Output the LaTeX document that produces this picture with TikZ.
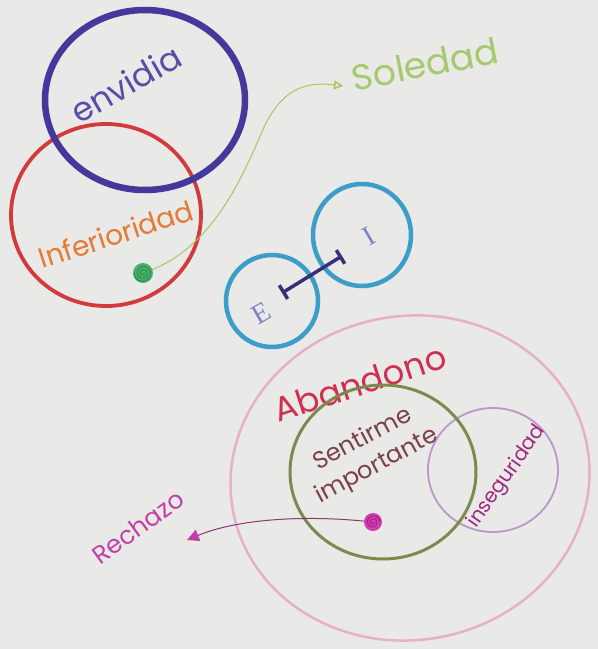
\documentclass[tikz,border=0pt]{standalone}
\usepackage{fontspec}
\setmainfont{Poppins}
\usetikzlibrary{shapes.geometric,arrows.meta}
\definecolor{paper}{HTML}{E9E9E7}
\definecolor{cEnv}{HTML}{46389A}
\definecolor{cEnvT}{HTML}{5A4AAA}
\definecolor{cRed}{HTML}{D23A3C}
\definecolor{cInfT}{HTML}{E47A34}
\definecolor{cGDot}{HTML}{46B06A}
\definecolor{cGDark}{HTML}{2E8A4C}
\definecolor{cGLine}{HTML}{A2C864}
\definecolor{cSol}{HTML}{A6C86E}
\definecolor{cBlue}{HTML}{3C9EC8}
\definecolor{cBar}{HTML}{3B2E78}
\definecolor{cEI}{HTML}{7C84C8}
\definecolor{cPink}{HTML}{E6B0CC}
\definecolor{cAban}{HTML}{D03050}
\definecolor{cOlive}{HTML}{7C8A50}
\definecolor{cSent}{HTML}{7A4048}
\definecolor{cLila}{HTML}{B898C8}
\definecolor{cInseg}{HTML}{A02880}
\definecolor{cMag}{HTML}{D03CB0}
\definecolor{cMagDark}{HTML}{A0208A}
\definecolor{cRLine}{HTML}{8A3A70}
\definecolor{cRech}{HTML}{C040A8}
\begin{document}
\begin{tikzpicture}[x=1pt,y=-1pt,
  ring/.style={ellipse, draw, inner sep=0pt, outer sep=0pt},
  lbl/.style={inner sep=0pt, outer sep=0pt},
  fs/.style={font=\fontsize{#1}{#1}\selectfont},
  eifont/.style={font=\fontspec{Liberation Serif}\fontsize{28}{28}\selectfont},
  spiral/.style={line width=0.9pt}
]
\fill[paper] (0,0) rectangle (598,649);
\useasboundingbox (0,0) rectangle (598,649);

% top-left rings
\node[ring, draw=cRed, line width=3.8pt, minimum width=190pt, minimum height=182pt] (inf) at (106,215) {};
\node[ring, draw=cEnv, line width=6.5pt, minimum width=200pt, minimum height=180pt] (env) at (145,100) {};
\node[lbl, text=cEnvT, fs=33, rotate=30] (tenv) at (126,84) {envidia};
\node[lbl, text=cInfT, fs=28, rotate=18] (tinf) at (116,234) {Inferioridad};

% Soledad
\node[lbl, text=cSol, fs=36, rotate=11] (tsol) at (425,64) {Soledad};
\coordinate (sg) at (143,273);
\coordinate (solA) at (343,86);
\draw[cGLine, line width=1pt, -{Triangle[open,length=9pt,width=9pt,line width=1.5pt]}]
  (sg) .. controls (215,250) and (245,170) .. (265,125) .. controls (285,85) and (310,82) .. (solA);
\fill[cGDot] (sg) circle (10);
\draw[cGDark, spiral, shift={(143,273)}] plot[domain=0:900, samples=80, smooth] (\x:{1+\x/900*8});

% E - I
\node[ring, draw=cBlue, line width=4.5pt, minimum width=92pt, minimum height=92pt] (ringE) at (272,301) {};
\node[ring, draw=cBlue, line width=4.5pt, minimum width=98pt, minimum height=102pt] (ringI) at (362,235) {};
\node[lbl, text=cEI, rotate=30, eifont] (tE) at (261,313) {E};
\node[lbl, text=cEI, rotate=30, eifont] (tI) at (369,236) {I};
\coordinate (bE) at (282,293);
\coordinate (bI) at (342,256);
\draw[cBar, line width=3.5pt, {Bar[width=16pt,line width=3.5pt]}-{Bar[width=16pt,line width=3.5pt]}] (bE) -- (bI);

% Abandono group
\node[ring, draw=cPink, line width=2.5pt, minimum width=360pt, minimum height=324pt, rotate=10] (aban) at (410,478) {};
\node[lbl, text=cAban, fs=34, rotate=18] (taban) at (360,383) {Abandono};
\node[ring, draw=cLila, line width=1.8pt, minimum width=130pt, minimum height=124pt] (inseg) at (493,470) {};
\node[ring, draw=cOlive, line width=3pt, minimum width=186pt, minimum height=174pt] (sent) at (383,472) {};
\node[lbl, text=cSent, rotate=28, align=center, font=\fontsize{24}{30}\selectfont] (tsent) at (370,453) {Sentirme\\importante};
\node[lbl, text=cInseg, fs=20, rotate=55] (tinseg) at (507,477) {inseguridad};

% Rechazo
\node[lbl, text=cRech, fs=25, rotate=36] (trech) at (138,527) {Rechazo};
\coordinate (sm) at (373,522);
\coordinate (rA) at (187,540);
\draw[cRLine, line width=1pt, -{Triangle[length=12pt,width=12pt,fill=cRech,color=cRech]}]
  (sm) .. controls (300,514) and (235,520) .. (rA);
\fill[cMag] (sm) circle (9);
\draw[cMagDark, spiral, shift={(373,522)}] plot[domain=0:720, samples=60, smooth] (\x:{1+\x/720*6});
\end{tikzpicture}
\end{document}
